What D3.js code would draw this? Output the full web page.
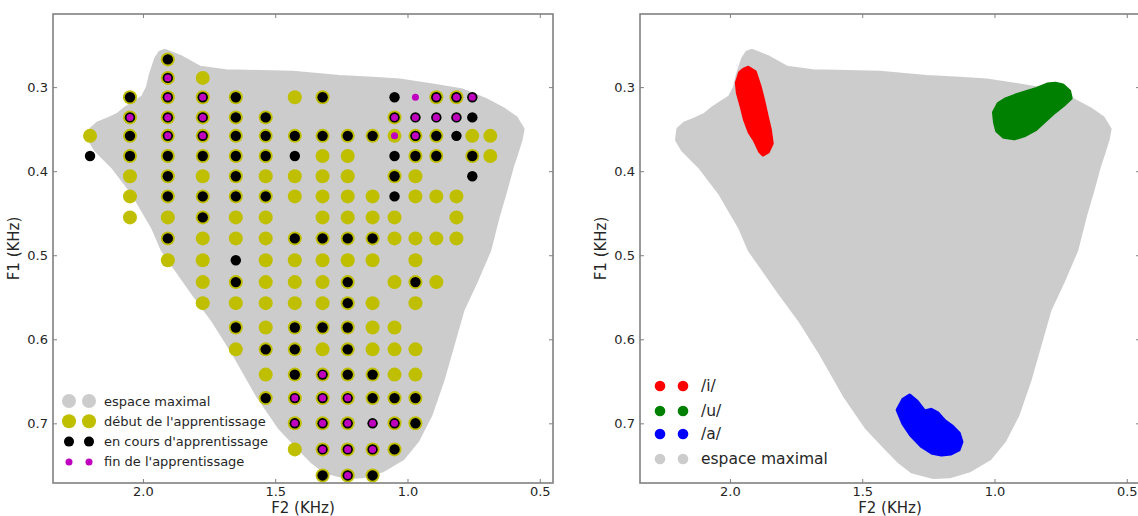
<!DOCTYPE html>
<html>
<head>
<meta charset="utf-8">
<script src="https://cdn.jsdelivr.net/npm/d3@7"></script>
<style>
  html, body { margin: 0; padding: 0; background: #fff; }
  svg { display: block; font-family: "DejaVu Sans", sans-serif; }
</style>
</head>
<body>
<svg id="chart" width="1138" height="516"></svg>
<script>
// ---------------- DATA ----------------
// Grid of tested F2 values (KHz), one per column
const F2_COLS = [2.200, 2.049, 1.906, 1.774, 1.649, 1.536, 1.426, 1.321, 1.226,
                 1.132, 1.049, 0.970, 0.891, 0.815, 0.755, 0.687, 0.623];
// Grid of tested F1 values (KHz), one per row
const F1_ROWS = [0.267, 0.289, 0.312, 0.336, 0.358, 0.382, 0.406, 0.430, 0.455, 0.480,
                 0.506, 0.532, 0.557, 0.586, 0.612, 0.642, 0.670, 0.700, 0.731, 0.762];
// Learning stage per grid cell:
// Y = début, K = en cours, P = fin, B = début+en cours, M = début+en cours+fin,
// k = en cours+fin, y = début+fin, . = none
const STAGE_GRID = [
  "..B..............",
  "..MY.............",
  ".BMMB.YB..KPMMk..",
  ".MMMBB....MkkkK..",
  "YBMMBBBBBByMBKYY.",
  "KBBBBBKYY.KBB.BY.",
  ".YBYBYYYY.BY..K..",
  ".YBBBBYYYYKYYY...",
  ".YYBYY.YYYY..Y...",
  "..BYYYBBBBYYYY...",
  "..YYKYYYYY.Y.....",
  "...YBYYYB.YBY....",
  "...YYYYYBY.Y.....",
  "....BYBBBYY......",
  "....YBBYBYYY.....",
  ".....YBMBBYY.....",
  ".....BMMMBBB.....",
  "......MMMkMB.....",
  "......YMMMB......",
  ".......BMB......."
];
// Boundary of the maximal vowel space [F2, F1] (KHz)
const ESPACE_MAXIMAL = [
  [1.917,0.257],[1.860,0.264],[1.785,0.277],[1.687,0.281],[1.558,0.282],[1.434,0.283],
  [1.257,0.288],[1.132,0.290],[1.030,0.292],[0.906,0.298],[0.792,0.304],[0.706,0.315],
  [0.640,0.326],[0.590,0.337],[0.565,0.350],[0.572,0.362],[0.590,0.380],[0.604,0.393],[0.630,0.423],
  [0.657,0.452],[0.691,0.494],[0.743,0.532],[0.792,0.565],[0.830,0.607],[0.868,0.649],
  [0.913,0.690],[0.962,0.720],[1.019,0.742],[1.094,0.756],[1.170,0.763],[1.230,0.764],
  [1.313,0.757],[1.358,0.746],[1.408,0.730],[1.483,0.705],[1.566,0.667],[1.660,0.615],
  [1.736,0.577],[1.811,0.545],[1.925,0.494],[1.962,0.467],[2.038,0.426],[2.113,0.395],
  [2.177,0.375],[2.200,0.363],[2.195,0.350],[2.170,0.343],[2.130,0.338],[2.095,0.333],
  [2.064,0.325],[2.030,0.318],[2.000,0.312],[1.981,0.300],[1.970,0.285],[1.950,0.266],
  [1.935,0.259]
];
// Vowel cluster outlines [F2, F1] (KHz)
const VOWEL_I = [
  [1.932,0.277],[1.906,0.282],[1.887,0.300],[1.875,0.315],[1.860,0.336],[1.849,0.351],
  [1.842,0.367],[1.857,0.377],[1.875,0.380],[1.887,0.376],[1.906,0.363],[1.925,0.354],
  [1.943,0.339],[1.955,0.324],[1.970,0.307],[1.974,0.295],[1.962,0.283],[1.947,0.279]
];
const VOWEL_U = [
  [1.002,0.330],[0.985,0.320],[0.960,0.315],[0.920,0.310],[0.880,0.306],[0.840,0.302],
  [0.800,0.297],[0.770,0.296],[0.742,0.298],[0.718,0.305],[0.712,0.313],[0.735,0.320],
  [0.775,0.330],[0.810,0.340],[0.845,0.350],[0.885,0.357],[0.925,0.361],[0.965,0.359],
  [0.990,0.352],[0.998,0.342]
];
const VOWEL_A = [
  [1.366,0.684],[1.345,0.672],[1.321,0.667],[1.294,0.674],[1.265,0.686],[1.240,0.684],
  [1.215,0.688],[1.190,0.697],[1.160,0.704],[1.135,0.712],[1.125,0.722],[1.135,0.731],
  [1.165,0.736],[1.200,0.737],[1.235,0.735],[1.275,0.727],[1.315,0.714],[1.345,0.700]
];
const X_TICKS = [2.0, 1.5, 1.0, 0.5];
const Y_TICKS = [0.3, 0.4, 0.5, 0.6, 0.7];
const LEGEND_LEFT = ["espace maximal", "début de l'apprentissage", "en cours d'apprentissage", "fin de l'apprentissage"];
const LEGEND_RIGHT = ["/i/", "/u/", "/a/", "espace maximal"];

// ---------------- STYLE ----------------
const C = { gray: "#cccccc", yellow: "#bfbf00", black: "#000000", magenta: "#bf00bf",
            red: "#ff0000", green: "#008000", blue: "#0000ff", spine: "#808080", text: "#262626" };
const X_DOMAIN = [2.34, 0.45], Y_DOMAIN = [0.213, 0.771];
const TOP = 14, BOTTOM = 483;

// Derived series
const cells = [];
STAGE_GRID.forEach((row, ri) => {
  row.split("").forEach((code, ci) => {
    if (code !== ".") cells.push({ f2: F2_COLS[ci], f1: F1_ROWS[ri], code });
  });
});
const debut = cells.filter(d => "YBMy".includes(d.code));
const enCours = cells.filter(d => "BKMk".includes(d.code));
const fin = cells.filter(d => "MPky".includes(d.code));

const svg = d3.select("#chart");

function makePanel(x0, x1) {
  const x = d3.scaleLinear().domain(X_DOMAIN).range([x0, x1]);
  const y = d3.scaleLinear().domain(Y_DOMAIN).range([TOP, BOTTOM]);
  const g = svg.append("g");
  const clipId = "clip" + x0;
  svg.append("clipPath").attr("id", clipId).append("rect")
    .attr("x", x0).attr("y", TOP).attr("width", x1 - x0).attr("height", BOTTOM - TOP);
  const plot = g.append("g").attr("clip-path", `url(#${clipId})`);
  return { x, y, g, plot, x0, x1 };
}

function drawAxes(p) {
  const { x, y, g, x0, x1 } = p;
  const fmt = d3.format(".1f");
  const axB = g.append("g").attr("transform", `translate(0,${BOTTOM})`)
    .call(d3.axisBottom(x).tickValues(X_TICKS).tickSize(-4).tickSizeOuter(0).tickPadding(4).tickFormat(fmt));
  const axT = g.append("g").attr("transform", `translate(0,${TOP})`)
    .call(d3.axisTop(x).tickValues(X_TICKS).tickSize(-4).tickSizeOuter(0).tickFormat(""));
  const axL = g.append("g").attr("transform", `translate(${x0},0)`)
    .call(d3.axisLeft(y).tickValues(Y_TICKS).tickSize(-4).tickSizeOuter(0).tickPadding(5).tickFormat(fmt));
  const axR = g.append("g").attr("transform", `translate(${x1},0)`)
    .call(d3.axisRight(y).tickValues(Y_TICKS).tickSize(-4).tickSizeOuter(0).tickFormat(""));
  [axB, axT, axL, axR].forEach(a => {
    a.select(".domain").remove();
    a.selectAll(".tick line").attr("stroke", C.spine).attr("stroke-width", 1);
    a.selectAll(".tick text").attr("fill", C.text).style("font-size", "13px")
      .style("font-family", "'DejaVu Sans', sans-serif");
  });
  g.append("rect").attr("x", x0).attr("y", TOP).attr("width", x1 - x0).attr("height", BOTTOM - TOP)
    .attr("fill", "none").attr("stroke", C.spine).attr("stroke-width", 1.6);
  g.append("text").attr("x", (x0 + x1) / 2).attr("y", 513).attr("text-anchor", "middle")
    .attr("fill", C.text).style("font-size", "15px").text("F2 (KHz)");
  g.append("text").attr("transform", `translate(${x0 - 34},${(TOP + BOTTOM) / 2}) rotate(-90)`)
    .attr("text-anchor", "middle").attr("fill", C.text).style("font-size", "15px").text("F1 (KHz)");
}

function blob(p, pts, color, sw) {
  const line = d3.line().x(d => p.x(d[0])).y(d => p.y(d[1])).curve(d3.curveLinearClosed);
  p.plot.append("path").attr("d", line(pts)).attr("fill", color)
    .attr("stroke", color).attr("stroke-width", sw).attr("stroke-linejoin", "round");
}

// ---------------- LEFT PANEL ----------------
const L = makePanel(53, 553);
blob(L, ESPACE_MAXIMAL, C.gray, 4);
L.plot.selectAll("circle.debut").data(debut).join("circle").attr("class", "debut")
  .attr("cx", d => L.x(d.f2)).attr("cy", d => L.y(d.f1)).attr("r", 7).attr("fill", C.yellow);
L.plot.selectAll("circle.encours").data(enCours).join("circle").attr("class", "encours")
  .attr("cx", d => L.x(d.f2)).attr("cy", d => L.y(d.f1)).attr("r", 5.2).attr("fill", C.black);
L.plot.selectAll("circle.fin").data(fin).join("circle").attr("class", "fin")
  .attr("cx", d => L.x(d.f2)).attr("cy", d => L.y(d.f1)).attr("r", 3.5).attr("fill", C.magenta);
drawAxes(L);

// left legend
const legL = L.g.append("g");
const legLStyle = [
  { color: C.gray, r: 7 }, { color: C.yellow, r: 7 }, { color: C.black, r: 5 }, { color: C.magenta, r: 3.5 }
];
LEGEND_LEFT.forEach((label, i) => {
  const yy = 401 + i * 20.3;
  [69, 89].forEach(xx => legL.append("circle").attr("cx", xx).attr("cy", yy)
    .attr("r", legLStyle[i].r).attr("fill", legLStyle[i].color));
  legL.append("text").attr("x", 104).attr("y", yy).attr("dy", "0.35em")
    .attr("fill", C.text).style("font-size", "13px").text(label);
});

// ---------------- RIGHT PANEL ----------------
const R = makePanel(640, 1140);
blob(R, ESPACE_MAXIMAL, C.gray, 4);
blob(R, VOWEL_I, C.red, 4);
blob(R, VOWEL_U, C.green, 4);
blob(R, VOWEL_A, C.blue, 4);
drawAxes(R);

const legR = R.g.append("g");
const legRColors = [C.red, C.green, C.blue, C.gray];
LEGEND_RIGHT.forEach((label, i) => {
  const yy = [386, 411, 434, 459][i];
  [660, 683].forEach(xx => legR.append("circle").attr("cx", xx).attr("cy", yy)
    .attr("r", 5.3).attr("fill", legRColors[i]));
  legR.append("text").attr("x", 701).attr("y", yy).attr("dy", "0.35em")
    .attr("fill", C.text).style("font-size", "15.5px").text(label);
});
</script>
</body>
</html>
